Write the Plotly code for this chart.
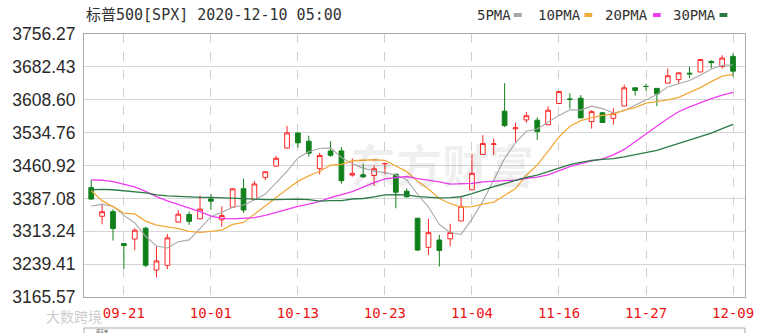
import plotly.graph_objects as go
import numpy as np

# ---------------- data ----------------
dates = ["09-16", "09-17", "09-18", "09-21", "09-22", "09-23", "09-24", "09-25", "09-28", "09-29", "09-30",
         "10-01", "10-02", "10-05", "10-06", "10-07", "10-08", "10-09", "10-12", "10-13", "10-14", "10-15", "10-16",
         "10-19", "10-20", "10-21", "10-22", "10-23", "10-26", "10-27", "10-28", "10-29", "10-30",
         "11-02", "11-03", "11-04", "11-05", "11-06", "11-09", "11-10", "11-11", "11-12", "11-13",
         "11-16", "11-17", "11-18", "11-19", "11-20", "11-23", "11-24", "11-25", "11-27",
         "11-30", "12-01", "12-02", "12-03", "12-04", "12-07", "12-08", "12-09"]

opens = [3411.23, 3346.86, 3357.38, 3285.57, 3295.75, 3320.11, 3226.14, 3236.66, 3333.90, 3350.92, 3341.21,
         3385.87, 3338.94, 3367.27, 3408.74, 3384.56, 3434.28, 3459.67, 3500.02, 3534.01, 3515.47, 3453.72, 3493.50,
         3493.66, 3439.38, 3439.91, 3438.50, 3464.90, 3441.42, 3403.15, 3342.48, 3277.17, 3293.59,
         3296.20, 3336.25, 3406.46, 3485.74, 3508.34, 3583.04, 3543.26, 3563.22, 3562.67, 3552.57,
         3600.16, 3610.31, 3612.09, 3559.41, 3579.31, 3566.82, 3594.52, 3635.50, 3638.55,
         3634.18, 3645.87, 3653.78, 3668.28, 3670.94, 3694.73, 3683.05, 3705.98]
highs = [3428.92, 3375.17, 3362.27, 3285.57, 3320.31, 3323.35, 3278.70, 3306.88, 3360.74, 3357.92, 3393.56,
         3397.18, 3369.10, 3409.57, 3431.56, 3426.26, 3447.28, 3482.34, 3549.85, 3534.01, 3527.94, 3489.08, 3515.76,
         3502.42, 3476.93, 3464.86, 3460.53, 3466.46, 3441.42, 3409.51, 3342.48, 3341.05, 3304.93,
         3330.14, 3389.49, 3486.25, 3529.05, 3521.58, 3645.99, 3557.22, 3581.16, 3569.02, 3593.66,
         3628.51, 3623.11, 3619.09, 3585.22, 3581.23, 3589.81, 3642.31, 3635.50, 3644.31,
         3634.18, 3678.45, 3670.96, 3682.73, 3699.20, 3697.41, 3708.45, 3712.39]
lows = [3384.45, 3328.82, 3292.40, 3229.10, 3270.95, 3232.57, 3209.45, 3228.44, 3332.91, 3327.54, 3340.47,
        3361.39, 3323.69, 3367.27, 3354.54, 3384.56, 3428.15, 3458.07, 3499.61, 3500.86, 3480.55, 3440.89, 3480.45,
        3419.93, 3435.65, 3433.06, 3415.34, 3440.45, 3364.86, 3388.71, 3268.89, 3259.82, 3233.94,
        3279.74, 3336.25, 3405.17, 3485.74, 3484.34, 3547.48, 3511.91, 3557.00, 3518.58, 3552.57,
        3600.16, 3588.68, 3567.33, 3543.84, 3556.85, 3552.77, 3594.52, 3617.76, 3629.33,
        3594.39, 3645.87, 3644.84, 3657.17, 3670.94, 3678.88, 3678.83, 3660.54]
closes = [3385.49, 3357.01, 3319.47, 3281.06, 3315.57, 3236.92, 3246.59, 3298.46, 3351.60, 3335.47, 3363.00,
          3380.80, 3348.42, 3408.60, 3360.97, 3419.44, 3446.83, 3477.14, 3534.22, 3511.93, 3488.67, 3483.34, 3483.81,
          3426.92, 3443.12, 3435.56, 3453.49, 3465.39, 3400.97, 3390.68, 3271.03, 3310.11, 3269.96,
          3310.24, 3369.16, 3443.44, 3510.45, 3509.44, 3550.50, 3545.53, 3572.66, 3537.01, 3585.15,
          3626.91, 3609.53, 3567.79, 3581.87, 3557.54, 3577.59, 3635.41, 3629.65, 3638.35,
          3621.63, 3662.45, 3669.01, 3666.72, 3699.12, 3691.96, 3702.25, 3672.82]

# closes before the visible window (08-05 .. 09-15), needed for the moving averages
prior_closes = [3327.77, 3349.16, 3351.28, 3360.47, 3333.69, 3380.35, 3373.43, 3372.85, 3381.99, 3389.78,
                3374.85, 3385.51, 3397.16, 3431.28, 3443.62, 3478.73, 3484.55, 3508.01, 3500.31, 3526.65,
                3580.84, 3455.06, 3426.96, 3331.84, 3398.96, 3339.19, 3340.97, 3383.54, 3401.20]

ma_periods = [5, 10, 20, 30]
ma_names = ["5PMA", "10PMA", "20PMA", "30PMA"]
ma_colors = ["#a8a8a8", "#f2a93b", "#f03cf0", "#2b7a48"]

tick_labels = ["09-21", "10-01", "10-13", "10-23", "11-04", "11-16", "11-27", "12-09"]
y_ticks = [3165.57, 3239.41, 3313.24, 3387.08, 3460.92, 3534.76, 3608.60, 3682.43, 3756.27]

title_text = "标普500[SPX] 2020-12-10 05:00"

# ---------------- geometry ----------------
W, H = 766, 333
L, R, T, B = 79, 754, 34, 297
pw, ph = R - L, B - T


def px(x):
    return (x - L) / pw


def py(y):
    return (B - y) / ph


idx = list(range(len(dates)))
all_closes = np.array(prior_closes + closes)
n_prior = len(prior_closes)

fig = go.Figure()
fig.add_trace(go.Candlestick(
    x=idx, open=opens, high=highs, low=lows, close=closes,
    increasing=dict(line=dict(color="#ff2424", width=1), fillcolor="#ffffff"),
    decreasing=dict(line=dict(color="#11801c", width=1), fillcolor="#11801c"),
    whiskerwidth=0, showlegend=False, hoverinfo="skip",
))

for p, name, col in zip(ma_periods, ma_names, ma_colors):
    ma = [float(np.mean(all_closes[n_prior + i - p + 1:n_prior + i + 1])) for i in idx]
    fig.add_trace(go.Scatter(x=idx, y=ma, mode="lines", name=name,
                             line=dict(color=col, width=1.3 if p > 5 else 1.1),
                             showlegend=False, hoverinfo="skip"))

tickvals = [dates.index(d) for d in tick_labels]

x0 = -0.666
x1 = 60.1

fig.update_layout(
    width=W, height=H,
    margin=dict(l=L, r=W - R, t=T, b=H - B, pad=0),
    paper_bgcolor="white", plot_bgcolor="white",
    boxgap=0.38,
    showlegend=False,
    xaxis=dict(range=[x0, x1], tickvals=tickvals, ticktext=tick_labels,
               showgrid=True, gridcolor="#cfcfcf", griddash="dash", gridwidth=1,
               showline=True, mirror=True, linecolor="#a9a9a9", linewidth=1,
               zeroline=False, ticks="", rangeslider=dict(visible=False),
               tickfont=dict(family="DejaVu Sans Mono", size=14, color="#ee1111"),
               ticklabelstandoff=3, fixedrange=True),
    yaxis=dict(range=[y_ticks[0], y_ticks[-1]], tickvals=y_ticks,
               ticktext=["%.2f" % v for v in y_ticks],
               showgrid=True, gridcolor="#d6d6d6", gridwidth=1,
               showline=True, mirror=True, linecolor="#a9a9a9", linewidth=1,
               zeroline=False, ticks="",
               tickfont=dict(family="Liberation Sans", size=17.5, color="#2a2a2a"),
               ticklabelstandoff=4, fixedrange=True),
)

annotations = [
    dict(text=title_text, x=px(79), y=py(15), xref="paper", yref="paper",
         xanchor="left", yanchor="middle", showarrow=False,
         font=dict(family="DejaVu Sans Mono, Noto Sans CJK SC", size=15, color="#333333")),
    dict(text="东方财富", x=px(445), y=py(163), xref="paper", yref="paper",
         xanchor="center", yanchor="middle", showarrow=False,
         font=dict(family="Noto Sans CJK SC", size=46, color="rgba(0,0,0,0.07)", weight="bold")),
    dict(text="大数跨境", x=px(38), y=py(316), xref="paper", yref="paper",
         xanchor="left", yanchor="middle", showarrow=False,
         font=dict(family="Noto Sans CJK SC", size=14, color="rgba(190,190,190,0.8)")),
    dict(text="成交量", x=px(89), y=py(330.5), xref="paper", yref="paper",
         xanchor="left", yanchor="middle", showarrow=False,
         font=dict(family="Noto Sans CJK SC", size=4, color="#333333")),
]

legend_text_x = [478, 541, 609, 678]
legend_bar_x = [518, 590, 660, 728]
shapes = []
for name, col, tx, bx in zip(ma_names, ma_colors, legend_text_x, legend_bar_x):
    annotations.append(dict(text=name, x=px(tx), y=py(15), xref="paper", yref="paper",
                            xanchor="left", yanchor="middle", showarrow=False,
                            font=dict(family="DejaVu Sans Mono", size=14, color="#333333")))
    shapes.append(dict(type="rect", xref="paper", yref="paper",
                       x0=px(bx), x1=px(bx + 8), y0=py(17), y1=py(13),
                       fillcolor=col, line=dict(width=0)))

# lower panel frame (partially visible at the bottom)
shapes.append(dict(type="rect", xref="paper", yref="paper",
                   x0=px(79), x1=px(754), y0=py(360), y1=py(328),
                   fillcolor="rgba(0,0,0,0)", line=dict(color="#a9a9a9", width=1)))

fig.update_layout(annotations=annotations, shapes=shapes)

fig.write_html("out.html", config={"displayModeBar": False, "staticPlot": True})
